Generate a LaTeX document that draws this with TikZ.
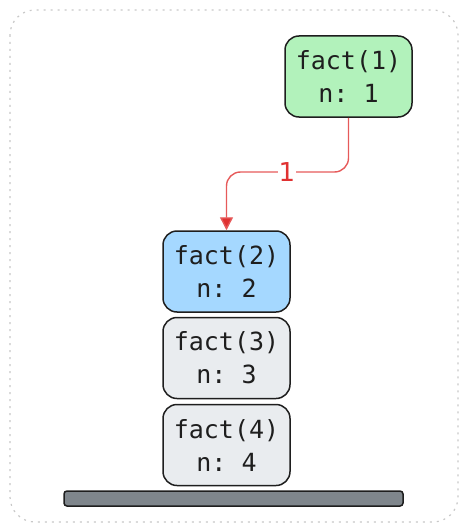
\documentclass[tikz,border=0pt]{standalone}
\usepackage{fontspec}
\setmonofont{DejaVu Sans Mono}
\setmainfont{DejaVu Sans}
\usetikzlibrary{arrows.meta}
\definecolor{cgreen}{HTML}{B2F2BB}
\definecolor{cblue}{HTML}{A5D8FF}
\definecolor{cgray}{HTML}{E9ECEF}
\definecolor{cstroke}{HTML}{1E1E1E}
\definecolor{cred}{HTML}{E03131}
\definecolor{cbar}{HTML}{7F868C}
\definecolor{cframe}{HTML}{C8C8C8}
\tikzset{
  frame/.style={draw=cframe, line width=1.2pt, dash pattern=on 2pt off 5pt, rounded corners=25pt},
  framebox/.style={draw=cstroke, line width=1.5pt, rounded corners=14pt, minimum width=127pt, minimum height=81pt, inner sep=0pt, align=center, font=\fontsize{25}{33}\ttfamily, text=cstroke},
  conn/.style={draw=cred!80, line width=1.4pt, rounded corners=14pt, -{Triangle[length=13pt,width=13pt,fill=cred]}},
  lbl/.style={fill=white, text=cred, font=\fontsize{26}{26}\selectfont, inner sep=1pt}
}
\begin{document}
\begin{tikzpicture}[x=1pt,y=-1pt]
\useasboundingbox (0,0) rectangle (468,532);
\draw[frame] (10,10) rectangle (458,522);
\node[framebox, fill=cgreen] (f1) at (348.5,76.5) {fact(1)\\n: 1};
\node[framebox, fill=cblue] (f2) at (226.5,271.5) {fact(2)\\n: 2};
\node[framebox, fill=cgray] (f3) at (226.5,358) {fact(3)\\n: 3};
\node[framebox, fill=cgray] (f4) at (226.5,445) {fact(4)\\n: 4};
\node[draw=cstroke, line width=1.5pt, fill=cbar, rounded corners=3pt, minimum width=339pt, minimum height=15pt, inner sep=0pt] (bar) at (233.5,498.5) {};
\coordinate (bend) at (348.5,172);
\draw[conn] (f1.south) -- (bend) -- (bend -| f2.north) -- (f2.north);
\node[lbl] (l1) at (287,172) {1};
\end{tikzpicture}
\end{document}
